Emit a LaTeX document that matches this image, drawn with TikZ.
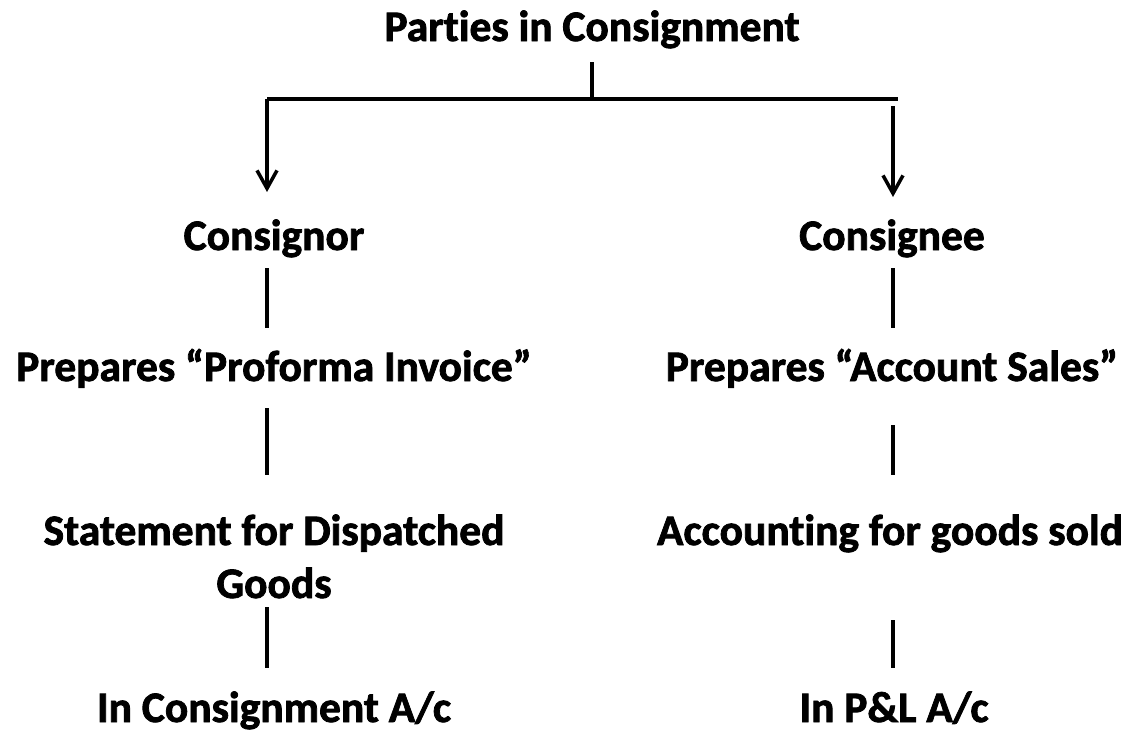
\documentclass[tikz,border=0pt]{standalone}
\usepackage{fontspec}
\setmainfont{Carlito}[Ligatures=NoCommon,BoldFeatures={FakeBold=1.8}]
\usetikzlibrary{arrows.meta}
\begin{document}
\begin{tikzpicture}[x=1pt,y=-1pt,
  lbl/.style={anchor=base,inner sep=0pt,font=\fontsize{43.5}{53}\selectfont\bfseries,align=center},
  conn/.style={line width=3.5pt},
  bar/.style={line width=4.5pt},
  branch/.style={line width=3.5pt,-{Straight Barb[length=18pt,width=20pt,line width=3.5pt]}}]
\useasboundingbox (0,0) rectangle (1125,734);

% heading
\node[lbl] (title) at (592,41) {Parties in Consignment};
\coordinate (barC) at (592,99);
\coordinate (barL) at (267,99);
\coordinate (barR) at (898,99);
\coordinate (tipR0) at (893,106);
\draw[conn] ([yshift=-21pt]title.base) -- (barC);
\draw[bar] (barL) -- (barR);

% left column (text centred at x=274, connectors at x=267)
\node[lbl] (consignor) at (274,250) {Consignor};
\node[lbl] (proforma) at (274,381) {Prepares “Proforma Invoice”};
\node[lbl] (statement) at (274,598) {Statement for Dispatched\\Goods};
\node[lbl] (consacc) at (274,722) {In Consignment A/c};

% right column (text centred at x=892, connectors at x=893)
\node[lbl] (consignee) at (892,250) {Consignee};
\node[lbl] (accsales) at (892,381) {Prepares “Account Sales”};
\node[lbl] (goodssold) at (890,545) {Accounting for goods sold};
\node[lbl] (pl) at (894,722) {In P\&L A/c};

% branches to the two parties
\draw[branch] (barL) -- ([xshift=-7pt,yshift=58pt]consignor.base);
\draw[branch] (tipR0) -- ([xshift=1pt,yshift=53pt]consignee.base);

% left chain
\draw[conn] ([xshift=-7pt,yshift=-18pt]consignor.base) -- ([xshift=-7pt,yshift=53pt]proforma.base);
\draw[conn] ([xshift=-7pt,yshift=-27pt]proforma.base) -- ([xshift=-7pt,yshift=123pt]statement.base);
\draw[conn] ([xshift=-7pt,yshift=-9pt]statement.base) -- ([xshift=-7pt,yshift=54pt]consacc.base);

% right chain
\draw[conn] ([xshift=1pt,yshift=-18pt]consignee.base) -- ([xshift=1pt,yshift=53pt]accsales.base);
\draw[conn] ([xshift=1pt,yshift=-44pt]accsales.base) -- ([xshift=3pt,yshift=70pt]goodssold.base);
\draw[conn] ([xshift=3pt,yshift=-75pt]goodssold.base) -- ([xshift=-1pt,yshift=54pt]pl.base);
\end{tikzpicture}
\end{document}
